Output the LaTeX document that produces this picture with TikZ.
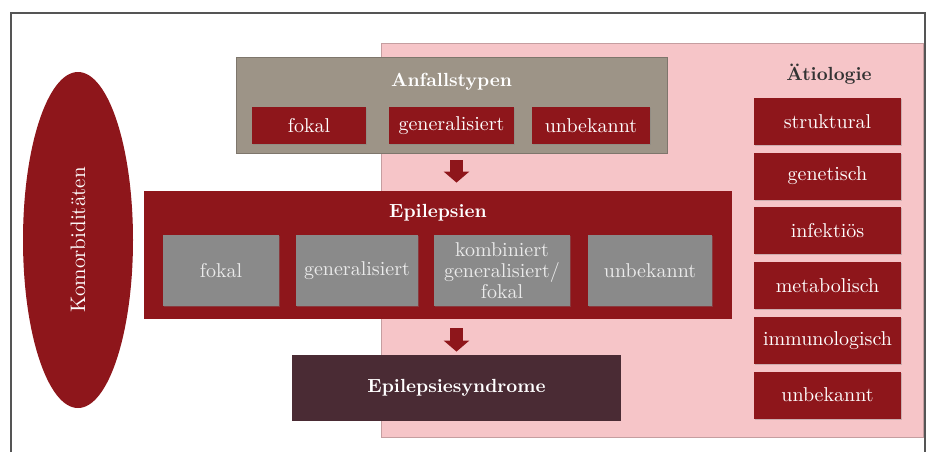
\documentclass[tikz,border=0pt]{standalone}
\usetikzlibrary{shapes.geometric,arrows.meta,shadows}
\definecolor{dunkelrot}{HTML}{8E161B}
\definecolor{rosa}{HTML}{F6C5C8}
\definecolor{taupe}{HTML}{9D9487}
\definecolor{grau}{HTML}{8A8A8A}
\definecolor{pflaume}{HTML}{4A2B34}
\definecolor{rahmen}{HTML}{555555}
\tikzset{
  box/.style={rectangle, inner sep=0pt, align=center, text=white,
    font=\fontsize{10}{11}\selectfont},
  rotbox/.style={box, fill=dunkelrot,
    drop shadow={shadow xshift=0.4pt, shadow yshift=-0.6pt, opacity=0.35}},
  graubox/.style={box, fill=grau, text=white!92!black,
    drop shadow={shadow xshift=0.4pt, shadow yshift=-0.6pt, opacity=0.35}},
  titel/.style={text=white, font=\bfseries\fontsize{9.5}{11}\selectfont},
  pfeil/.style={draw=dunkelrot, line width=6.5pt,
    -{Triangle[width=12.5pt,length=5.5pt]}}
}
\begin{document}
\begin{tikzpicture}[x=0.5pt,y=-0.5pt]
    \useasboundingbox (0,0) rectangle (936,452);
    % Rahmen und rosa Feld
    \draw[rahmen, line width=0.6pt] (11,452)--(11,13)--(925,13)--(925,452);
    \filldraw[fill=rosa, draw=rosa!80!black, line width=0.4pt] (381,43) rectangle (923,437);
    % Komorbiditaeten
    \node[ellipse, fill=dunkelrot, rotate=90, minimum width=168pt, minimum height=55pt,
      text=white, font=\fontsize{10.5}{12}\selectfont] (komo) at (78,240) {Komorbiditäten};
    % Anfallstypen
    \node[box, fill=taupe, draw=taupe!80!black, line width=0.4pt,
      minimum width=215.5pt, minimum height=48pt] (anf) at (451.5,105) {};
    \node[titel] (anftitel) at (451.5,82) {Anfallstypen};
    \node[rotbox, minimum width=57pt, minimum height=18.5pt] (anffokal) at (309,125.5) {fokal};
    \node[rotbox, minimum width=62.5pt, minimum height=18.5pt] (anfgen) at (451.5,125.5) {generalisiert};
    \node[rotbox, minimum width=59pt, minimum height=18.5pt] (anfunb) at (591,125.5) {unbekannt};
    % Epilepsien
    \node[box, fill=dunkelrot, minimum width=294pt, minimum height=64pt] (epi) at (438,255) {};
    \node[titel] (epititel) at (438,213) {Epilepsien};
    \node[graubox, minimum width=58pt, minimum height=35.5pt] (epifokal) at (221,270.5) {fokal};
    \node[graubox, minimum width=61pt, minimum height=35.5pt] (epigen) at (357,270.5) {generalisiert};
    \node[graubox, minimum width=68pt, minimum height=35.5pt,
      font=\fontsize{10}{10.5}\selectfont] (epikomb) at (502,270.5) {kombiniert\\generalisiert/\\fokal};
    \node[graubox, minimum width=62pt, minimum height=35.5pt] (epiunb) at (650,270.5) {unbekannt};
    % Epilepsiesyndrome
    \node[box, fill=pflaume, minimum width=164.5pt, minimum height=33pt,
      font=\bfseries\fontsize{9.5}{11}\selectfont] (syn) at (456.5,388) {Epilepsiesyndrome};
    % Pfeile
    \draw[pfeil, shorten <=3.5pt, shorten >=4pt] (anf.south -| syn.north) -- (epi.north -| syn.north);
    \draw[pfeil, shorten <=4.5pt, shorten >=1.5pt] (epi.south -| syn.north) -- (syn.north);
    % Aetiologie
    \node[text=black!80, font=\bfseries\fontsize{9.5}{11}\selectfont] (aettitel) at (829,74) {Ätiologie};
    \node[rotbox, minimum width=73.5pt, minimum height=23.5pt] (struk) at (827.5,121.5) {struktural};
    \node[rotbox, minimum width=73.5pt, minimum height=23.5pt] (genet) at (827.5,176) {genetisch};
    \node[rotbox, minimum width=73.5pt, minimum height=23.5pt] (infek) at (827.5,230.5) {infektiös};
    \node[rotbox, minimum width=73.5pt, minimum height=23.5pt] (metab) at (827.5,285.5) {metabolisch};
    \node[rotbox, minimum width=73.5pt, minimum height=23.5pt] (immun) at (827.5,340.5) {immunologisch};
    \node[rotbox, minimum width=73.5pt, minimum height=23.5pt] (aetunb) at (827.5,395) {unbekannt};
\end{tikzpicture}
\end{document}
